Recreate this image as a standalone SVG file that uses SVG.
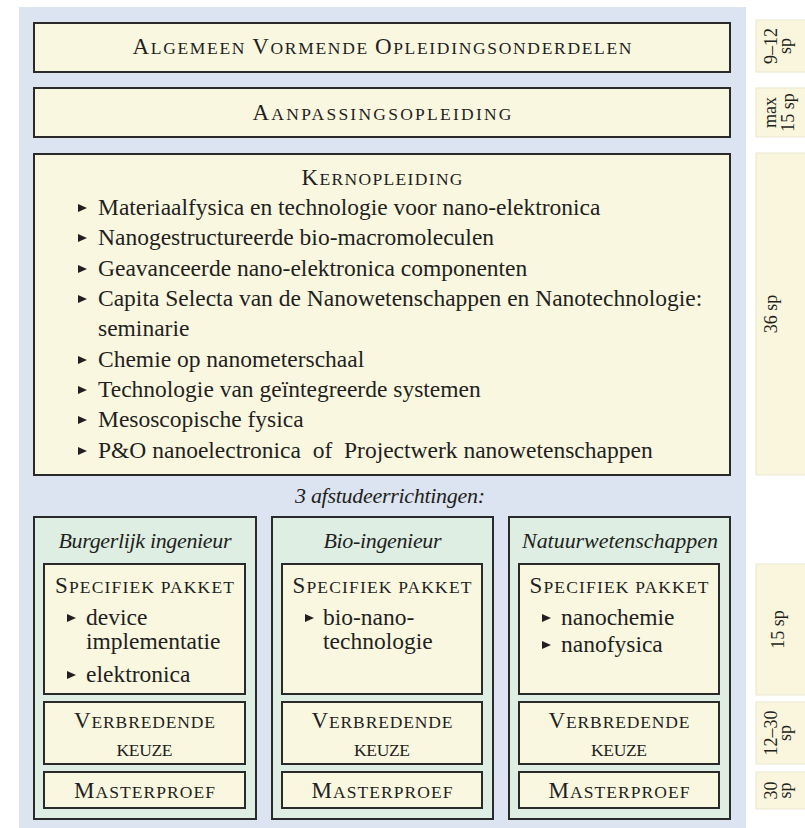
<svg xmlns="http://www.w3.org/2000/svg" xmlns:xlink="http://www.w3.org/1999/xlink" width="805" height="828" viewBox="0 0 805 828">
<style>
  .bg { fill: #dce3f1; }
  .box { fill: #faf7e0; stroke: #2a2a2a; stroke-width: 2; }
  .col { fill: #deeee3; stroke: #2a2a2a; stroke-width: 2; }
  .side { fill: #f9f6dd; stroke: #ebe8d2; stroke-width: 1; }
  text { font-family: "Liberation Serif", "Times New Roman", serif; fill: #231f20; }
  .body { font-size: 23.5px; }
  .sc { text-anchor: middle; }
  .big { font-size: 23px; }
  .small { font-size: 17.5px; }
  .it { font-style: italic; font-size: 22px; }
  .lab { font-size: 18px; text-anchor: middle; }
  .tri { fill: #231f20; }
</style>
<defs>
  <path id="tri" d="M0,-4 L9,0 L0,4 Z"/>
</defs>
<rect class="bg" x="19" y="7" width="727" height="821"/>

<g id="algemeen">
  <rect class="box" x="34" y="23" width="696" height="49"/>
  <text class="sc" x="382" y="54" textLength="499" lengthAdjust="spacing"><tspan class="big">A</tspan><tspan class="small">LGEMEEN </tspan><tspan class="big">V</tspan><tspan class="small">ORMENDE </tspan><tspan class="big">O</tspan><tspan class="small">PLEIDINGSONDERDELEN</tspan></text>
</g>

<g id="aanpassing">
  <rect class="box" x="34" y="88" width="696" height="49"/>
  <text class="sc" x="382" y="120" textLength="259" lengthAdjust="spacing"><tspan class="big">A</tspan><tspan class="small">ANPASSINGSOPLEIDING</tspan></text>
</g>

<g id="kern">
  <rect class="box" x="34" y="154" width="696" height="321"/>
  <text class="sc" x="382" y="185" textLength="161" lengthAdjust="spacing"><tspan class="big">K</tspan><tspan class="small">ERNOPLEIDING</tspan></text>
  <g class="tri">
    <use xlink:href="#tri" x="78" y="208"/>
    <use xlink:href="#tri" x="78" y="238"/>
    <use xlink:href="#tri" x="78" y="269"/>
    <use xlink:href="#tri" x="78" y="299"/>
    <use xlink:href="#tri" x="78" y="360"/>
    <use xlink:href="#tri" x="78" y="390"/>
    <use xlink:href="#tri" x="78" y="420"/>
    <use xlink:href="#tri" x="78" y="451"/>
  </g>
  <text class="body" x="98" y="215">Materiaalfysica en technologie voor nano-elektronica</text>
  <text class="body" x="98" y="245">Nanogestructureerde bio-macromoleculen</text>
  <text class="body" x="98" y="276">Geavanceerde nano-elektronica componenten</text>
  <text class="body" x="98" y="306">Capita Selecta van de Nanowetenschappen en Nanotechnologie:</text>
  <text class="body" x="98" y="336">seminarie</text>
  <text class="body" x="98" y="367">Chemie op nanometerschaal</text>
  <text class="body" x="98" y="397">Technologie van geïntegreerde systemen</text>
  <text class="body" x="98" y="427">Mesoscopische fysica</text>
  <text class="body" x="98" y="458">P&amp;O nanoelectronica&#160; of&#160; Projectwerk nanowetenschappen</text>
</g>

<g id="afstudeer-label">
  <text class="it" x="295" y="503" font-size="21" textLength="190" lengthAdjust="spacing">3 afstudeerrichtingen:</text>
</g>

<g id="burgerlijk">
  <rect class="col" x="34" y="517" width="222" height="302"/>
  <text class="it" x="145" y="548" text-anchor="middle" textLength="173" lengthAdjust="spacing">Burgerlijk ingenieur</text>
  <rect class="box" x="44" y="564" width="201" height="130"/>
  <text class="sc" x="144.5" y="593" textLength="179" lengthAdjust="spacing"><tspan class="big">S</tspan><tspan class="small">PECIFIEK PAKKET</tspan></text>
  <use class="tri" xlink:href="#tri" x="67" y="618"/>
  <text class="body" x="86" y="625">device</text>
  <text class="body" x="86" y="649">implementatie</text>
  <use class="tri" xlink:href="#tri" x="67" y="675"/>
  <text class="body" x="86" y="682">elektronica</text>
  <rect class="box" x="44" y="702" width="201" height="62"/>
  <text class="sc" x="144.5" y="728" textLength="141" lengthAdjust="spacing"><tspan class="big">V</tspan><tspan class="small">ERBREDENDE</tspan></text>
  <text class="sc small" x="144.5" y="756" textLength="56" lengthAdjust="spacing">KEUZE</text>
  <rect class="box" x="44" y="772" width="201" height="36"/>
  <text class="sc" x="144.5" y="798" textLength="141" lengthAdjust="spacing"><tspan class="big">M</tspan><tspan class="small">ASTERPROEF</tspan></text>
</g>

<g id="bio-ingenieur">
  <rect class="col" x="272" y="517" width="221" height="302"/>
  <text class="it" x="382.5" y="548" text-anchor="middle" textLength="118" lengthAdjust="spacing">Bio-ingenieur</text>
  <rect class="box" x="282" y="564" width="200" height="130"/>
  <text class="sc" x="382" y="593" textLength="179" lengthAdjust="spacing"><tspan class="big">S</tspan><tspan class="small">PECIFIEK PAKKET</tspan></text>
  <use class="tri" xlink:href="#tri" x="305" y="618"/>
  <text class="body" x="323" y="625">bio-nano-</text>
  <text class="body" x="323" y="649">technologie</text>
  <rect class="box" x="282" y="702" width="200" height="62"/>
  <text class="sc" x="382" y="728" textLength="141" lengthAdjust="spacing"><tspan class="big">V</tspan><tspan class="small">ERBREDENDE</tspan></text>
  <text class="sc small" x="382" y="756" textLength="56" lengthAdjust="spacing">KEUZE</text>
  <rect class="box" x="282" y="772" width="200" height="36"/>
  <text class="sc" x="382" y="798" textLength="141" lengthAdjust="spacing"><tspan class="big">M</tspan><tspan class="small">ASTERPROEF</tspan></text>
</g>

<g id="natuurwetenschappen">
  <rect class="col" x="509" y="517" width="221" height="302"/>
  <text class="it" x="620" y="548" text-anchor="middle" textLength="196" lengthAdjust="spacing">Natuurwetenschappen</text>
  <rect class="box" x="519" y="564" width="200" height="130"/>
  <text class="sc" x="619" y="593" textLength="179" lengthAdjust="spacing"><tspan class="big">S</tspan><tspan class="small">PECIFIEK PAKKET</tspan></text>
  <use class="tri" xlink:href="#tri" x="542" y="618"/>
  <text class="body" x="561" y="625">nanochemie</text>
  <use class="tri" xlink:href="#tri" x="542" y="645"/>
  <text class="body" x="561" y="652">nanofysica</text>
  <rect class="box" x="519" y="702" width="200" height="62"/>
  <text class="sc" x="619" y="728" textLength="141" lengthAdjust="spacing"><tspan class="big">V</tspan><tspan class="small">ERBREDENDE</tspan></text>
  <text class="sc small" x="619" y="756" textLength="56" lengthAdjust="spacing">KEUZE</text>
  <rect class="box" x="519" y="772" width="200" height="36"/>
  <text class="sc" x="619" y="798" textLength="141" lengthAdjust="spacing"><tspan class="big">M</tspan><tspan class="small">ASTERPROEF</tspan></text>
</g>

<g id="side-labels">
  <g id="sp-algemeen">
    <rect class="side" x="756" y="20" width="50" height="52"/>
    <text class="lab" transform="translate(777,46) rotate(-90)">9–12</text>
    <text class="lab" transform="translate(791,46) rotate(-90)">sp</text>
  </g>
  <g id="sp-aanpassing">
    <rect class="side" x="756" y="88" width="50" height="49"/>
    <text class="lab" transform="translate(776,112.5) rotate(-90)">max</text>
    <text class="lab" transform="translate(794,112.5) rotate(-90)">15 sp</text>
  </g>
  <g id="sp-kern">
    <rect class="side" x="756" y="153" width="50" height="322"/>
    <text class="lab" transform="translate(777,314) rotate(-90)">36 sp</text>
  </g>
  <g id="sp-specifiek">
    <rect class="side" x="756" y="564" width="50" height="131"/>
    <text class="lab" transform="translate(784,629.5) rotate(-90)">15 sp</text>
  </g>
  <g id="sp-verbredend">
    <rect class="side" x="756" y="702" width="50" height="62"/>
    <text class="lab" transform="translate(777,733) rotate(-90)">12–30</text>
    <text class="lab" transform="translate(791,733) rotate(-90)">sp</text>
  </g>
  <g id="sp-masterproef">
    <rect class="side" x="756" y="772" width="50" height="37"/>
    <text class="lab" transform="translate(777,790.5) rotate(-90)">30</text>
    <text class="lab" transform="translate(791,790.5) rotate(-90)">sp</text>
  </g>
</g>

<g id="connectors"></g>
</svg>
